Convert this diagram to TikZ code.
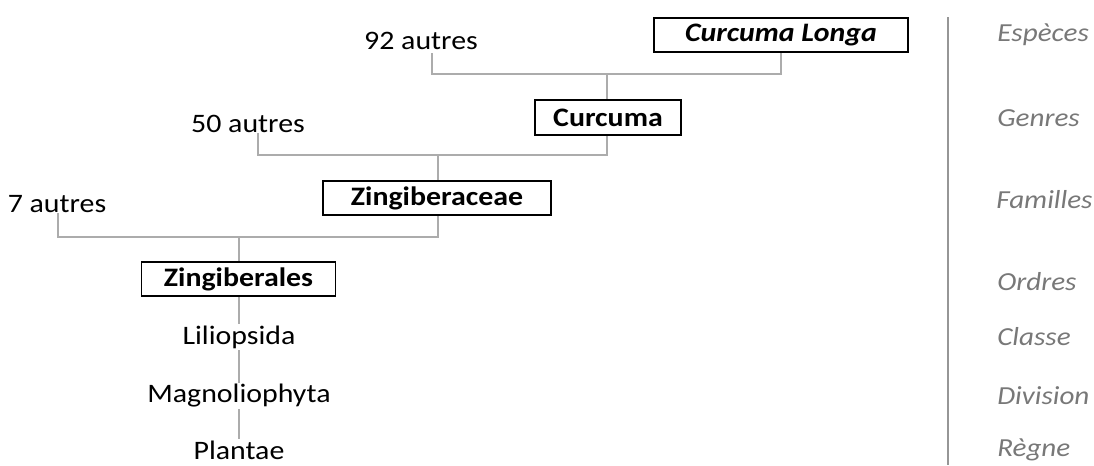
\documentclass[tikz,border=0pt]{standalone}
\usepackage{fontspec}
\usepackage{graphicx}
\setmainfont{Carlito}
\newcommand\widetxt[1]{\scalebox{1.12}[1]{#1}}
\definecolor{linkgray}{RGB}{172,172,172}
\definecolor{rankgray}{RGB}{120,120,120}
\definecolor{sepgray}{RGB}{150,150,150}
\begin{document}
\begin{tikzpicture}[x=0.75pt,y=-0.75pt,
  taxbox/.style={draw=black,line width=1.4pt,fill=white,inner sep=0pt,
    font=\fontsize{20}{22}\selectfont\bfseries},
  plain/.style={inner sep=1pt,font=\fontsize{20}{22}\selectfont},
  rank/.style={anchor=west,inner sep=0pt,text=rankgray,
    font=\fontsize{19.5}{22}\selectfont\itshape},
  link/.style={draw=linkgray,line width=1.3pt}]
\useasboundingbox (0,0) rectangle (1094,465);
% boxes
\node[taxbox,minimum width=190.5pt,minimum height=25.5pt,font=\fontsize{20}{22}\selectfont\bfseries\itshape] (cl) at (781,35) {\widetxt{Curcuma Longa}};
\node[taxbox,minimum width=109.5pt,minimum height=26pt] (cu) at (608,117.5) {\widetxt{Curcuma}};
\node[taxbox,minimum width=171pt,minimum height=25.5pt] (zc) at (437,198) {\widetxt{Zingiberaceae}};
\node[taxbox,minimum width=145.5pt,minimum height=25.5pt] (zl) at (238.5,279) {\widetxt{Zingiberales}};
% others
\node[plain] (o92) at (421,41) {\widetxt{92 autres}};
\node[plain] (o50) at (248,124) {\widetxt{50 autres}};
\node[plain] (o7) at (57,204) {\widetxt{7 autres}};
% lower ranks
\node[plain] (lil) at (239,337) {\widetxt{Liliopsida}};
\node[plain] (mag) at (239,396) {\widetxt{Magnoliophyta}};
\node[plain] (pla) at (239,450) {\widetxt{Plantae}};
% junctions
\coordinate (a92) at (432,53);
\coordinate (j1) at (607,74);
\coordinate (a50) at (258,133);
\coordinate (j2) at (438,155);
\coordinate (a7) at (58,213);
\coordinate (j3) at (239,237);
% connectors
\draw[link] (a92) |- (j1) -| (cl.south);
\draw[link] (j1) -- (cu.north -| j1);
\draw[link] (a50) |- (j2) -| (cu.south -| j1);
\draw[link] (j2) -- (zc.north -| j2);
\draw[link] (a7) |- (j3) -| (zc.south -| j2);
\draw[link] (j3) -- (zl.north -| j3);
\draw[link] (zl.south -| j3) -- (lil.north -| j3);
\draw[link] (lil.south -| j3) -- (mag.north -| j3);
\draw[link] (mag.south -| j3) -- (pla.north -| j3);
% separator
\coordinate (st) at (948,17);
\coordinate (sb) at (948,465);
\draw[draw=sepgray,line width=2pt] (st) -- (sb);
% ranks
\node[rank] (r1) at (997,35) {\widetxt{Espèces}};
\node[rank] (r2) at (997,118) {\widetxt{Genres}};
\node[rank] (r3) at (996,200) {\widetxt{Familles}};
\node[rank] (r4) at (997,282) {\widetxt{Ordres}};
\node[rank] (r5) at (997,337) {\widetxt{Classe}};
\node[rank] (r6) at (997,396) {\widetxt{Division}};
\node[rank] (r7) at (997,450) {\widetxt{Règne}};
\end{tikzpicture}
\end{document}
